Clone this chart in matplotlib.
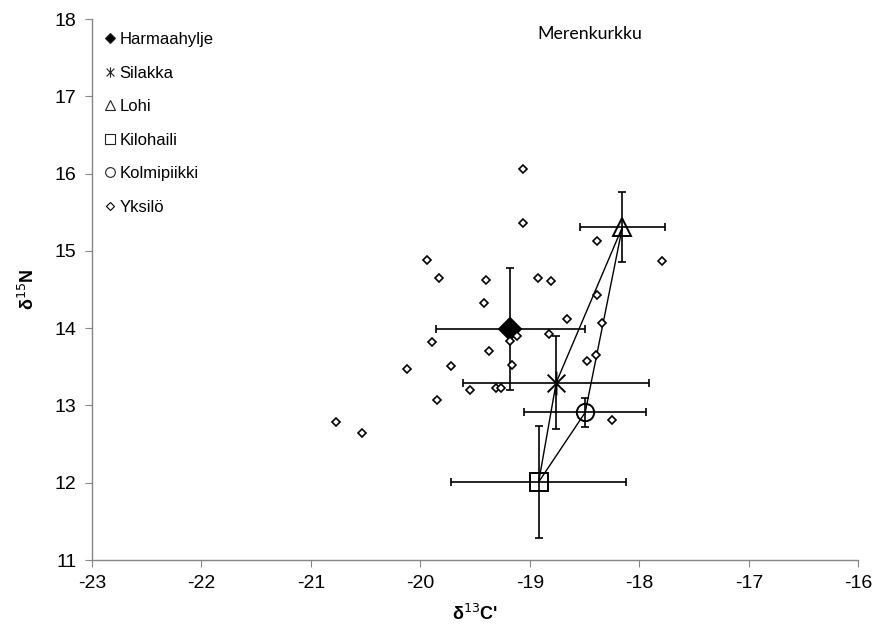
import matplotlib
matplotlib.use("Agg")
import matplotlib.pyplot as plt
from matplotlib.path import Path
from matplotlib.lines import Line2D

plt.rcParams['font.family'] = ['Liberation Sans', 'DejaVu Sans']
plt.rcParams['axes.unicode_minus'] = False

# lajien keskiarvot ja keskihajonnat
species = ['Harmaahylje', 'Silakka', 'Lohi', 'Kilohaili', 'Kolmipiikki']
mean_c = [-19.18, -18.76, -18.155, -18.92, -18.495]
mean_n = [13.99, 13.295, 15.31, 12.01, 12.91]
sd_c = [0.68, 0.85, 0.385, 0.80, 0.555]
sd_n = [0.79, 0.605, 0.45, 0.72, 0.19]

# yksittäiset hylkeet
ind_c = [-19.06, -19.06, -19.94, -19.83, -19.40, -18.93, -18.81, -18.39, -17.79, -19.42,
         -18.39, -18.66, -18.34, -19.89, -18.83, -19.12, -19.18, -19.37, -20.12, -19.72,
         -19.16, -19.55, -19.31, -19.26, -19.85, -20.77, -20.53, -18.48, -18.40, -18.25]
ind_n = [16.06, 15.36, 14.88, 14.65, 14.63, 14.65, 14.61, 15.13, 14.87, 14.32,
         14.43, 14.12, 14.07, 13.82, 13.92, 13.90, 13.83, 13.71, 13.47, 13.51,
         13.52, 13.20, 13.22, 13.23, 13.07, 12.79, 12.65, 13.57, 13.65, 12.81]

# ravintoverkon viivat (indeksit species-listaan)
web = [3, 1, 2, 4, 3]

# Excelin tähtimerkki: pystyviiva + X
star = Path([(0, 1), (0, -1), (-0.75, 0.75), (0.75, -0.75), (-0.75, -0.75), (0.75, 0.75)],
            [Path.MOVETO, Path.LINETO, Path.MOVETO, Path.LINETO, Path.MOVETO, Path.LINETO])

markers = ['D', star, '^', 's', 'o']
sizes = [11, 17, 13, 12.5, 12.5]
faces = ['black', 'none', 'none', 'none', 'none']

fig = plt.figure(figsize=(8.84, 6.35), dpi=100)
ax = fig.add_axes([0.104, 0.118, 0.867, 0.852])

ax.errorbar(mean_c, mean_n, xerr=sd_c, yerr=sd_n, fmt='none', ecolor='black',
            elinewidth=1.2, capsize=2.8, capthick=1.2, zorder=2)

ax.plot([mean_c[i] for i in web], [mean_n[i] for i in web], color='black', lw=1.0, zorder=3)

for i in range(len(species)):
    ax.plot(mean_c[i], mean_n[i], marker=markers[i], ms=sizes[i], mfc=faces[i],
            mec='black', mew=1.4, ls='none', zorder=4)

ax.plot(ind_c, ind_n, marker='D', ms=4, mfc='white', mec='black', mew=1.2,
        ls='none', zorder=5)

# selite
legend_ms = [5.5, 7.5, 7, 7, 7, 3.8]
handles = []
for i in range(len(species)):
    handles.append(Line2D([], [], marker=markers[i], ms=legend_ms[i], mfc=faces[i],
                          mec='#222222', mew=0.8, ls='none'))
handles.append(Line2D([], [], marker='D', ms=legend_ms[5], mfc='white', mec='black',
                      mew=0.8, ls='none'))
ax.legend(handles, species + ['Yksilö'], loc='upper left', bbox_to_anchor=(0.008, 0.988),
          frameon=False, fontsize=12, handlelength=0.6, handletextpad=0.3,
          labelspacing=1.11, borderaxespad=0)

ax.text(0.65, 0.988, 'Merenkurkku', transform=ax.transAxes, ha='center', va='top',
        fontsize=12.8, family=['Lato', 'DejaVu Sans'])

ax.set_xlim(-23, -16)
ax.set_ylim(11, 18)
ax.set_xticks(range(-23, -15))
ax.set_yticks(range(11, 19))

for s in ['top', 'right']:
    ax.spines[s].set_visible(False)
for s in ['left', 'bottom']:
    ax.spines[s].set_color('#868686')
    ax.spines[s].set_linewidth(1.0)
ax.tick_params(direction='out', length=5, color='#868686', labelsize=14, pad=6)

ax.set_xlabel("δ$^{13}$C'", fontsize=13, fontweight='bold', labelpad=8)
ax.set_ylabel("δ$^{15}$N", fontsize=13, fontweight='bold', labelpad=12)

fig.savefig('out.png', dpi=100)
